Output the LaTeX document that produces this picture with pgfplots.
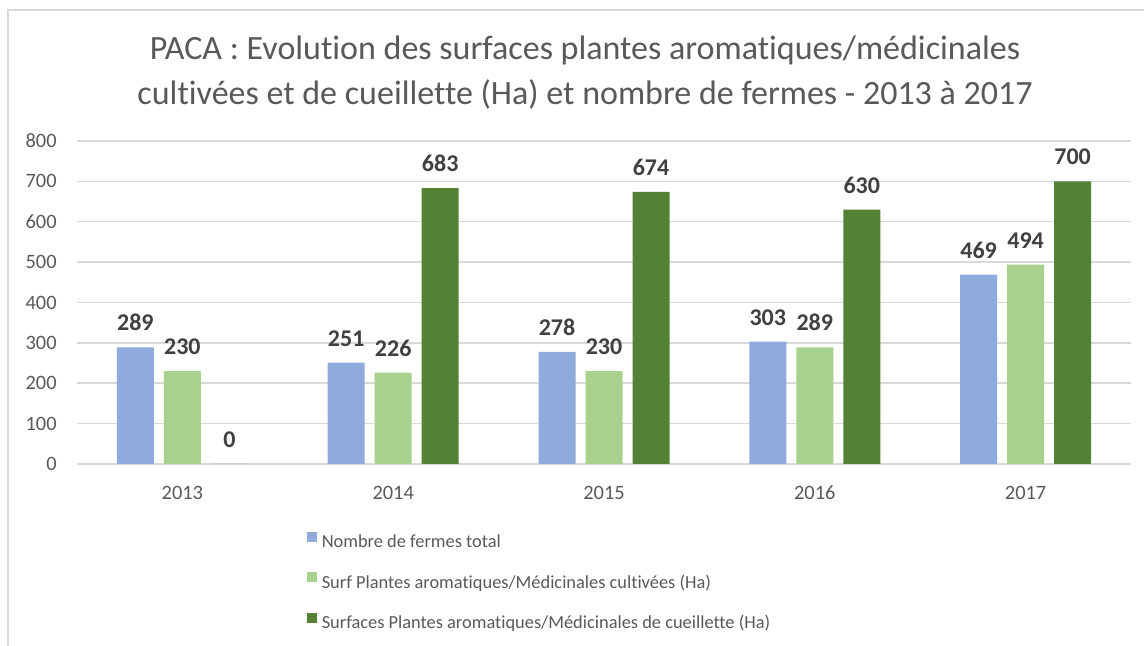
\documentclass[border=0pt]{standalone}
\usepackage{fontspec}
\setmainfont{Carlito}[Ligatures=NoCommon]
\usepackage{pgfplots}
\pgfplotsset{compat=1.18}
\definecolor{cblue}{HTML}{8FAADC}
\definecolor{clgreen}{HTML}{A9D18E}
\definecolor{cdgreen}{HTML}{548235}
\definecolor{clabel}{HTML}{404040}
\definecolor{ctext}{HTML}{595959}
\definecolor{cgrid}{HTML}{D9D9D9}
\begin{document}
\begin{tikzpicture}
\useasboundingbox (0,0) rectangle (572pt,323pt);
\fill[white] (0,0) rectangle (572pt,323pt);
\draw[cgrid, line width=1pt] (4pt,0) -- (4pt,318pt) -- (572pt,318pt);
\begin{axis}[
  at={(38.5pt,91pt)}, anchor=south west,
  scale only axis, width=527pt, height=161.5pt,
  xmin=-0.5, xmax=4.5, ymin=0, ymax=800,
  ybar=5pt, bar width=18.5pt,
  xtick={0,1,2,3,4}, xticklabels={2013,2014,2015,2016,2017},
  ytick={0,100,...,800},
  ymajorgrids, grid style={cgrid, line width=0.75pt},
  axis line style={draw=none},
  major tick length=0pt,
  tick label style={font=\fontsize{10.2}{12}\selectfont, text=ctext, inner sep=0pt},
  xticklabel style={yshift=-10.2pt, text height=7.2pt, text depth=0pt, anchor=north},
  yticklabel style={xshift=-10pt},
  /pgf/number format/assume math mode=true,
  title={PACA : Evolution des surfaces plantes aromatiques/médicinales\\cultivées et de cueillette (Ha) et nombre de fermes - 2013 à 2017},
  title style={at={(0.482,1.174)}, anchor=center, inner sep=0pt, align=center, font=\fontsize{17}{22.5}\selectfont, text=ctext},
  nodes near coords,
  every node near coord/.append style={font=\bfseries\fontsize{12}{14}\selectfont, text=clabel, inner sep=0pt, yshift=8pt},
  legend style={at={(0.218,-0.2105)}, anchor=north west, draw=none, fill=none, inner sep=0pt, outer sep=0pt, row sep=10.3pt, column sep=2.5pt, font=\fontsize{9.2}{11}\selectfont, text=ctext, nodes={inner sep=0pt, text height=7pt, text depth=2pt}},
  legend cell align=left,
  legend image code/.code={\fill[#1] (0pt,0.4pt) rectangle (5pt,5.4pt);},
]
\addplot[fill=cblue, draw=none] coordinates {(0,289) (1,251) (2,278) (3,303) (4,469)};
\addplot[fill=clgreen, draw=none] coordinates {(0,230) (1,226) (2,230) (3,289) (4,494)};
\addplot[fill=cdgreen, draw=none] coordinates {(0,0) (1,683) (2,674) (3,630) (4,700)};
\legend{Nombre de fermes total, Surf Plantes aromatiques/Médicinales cultivées (Ha), Surfaces Plantes aromatiques/Médicinales de cueillette (Ha)}
\end{axis}
\end{tikzpicture}
\end{document}
